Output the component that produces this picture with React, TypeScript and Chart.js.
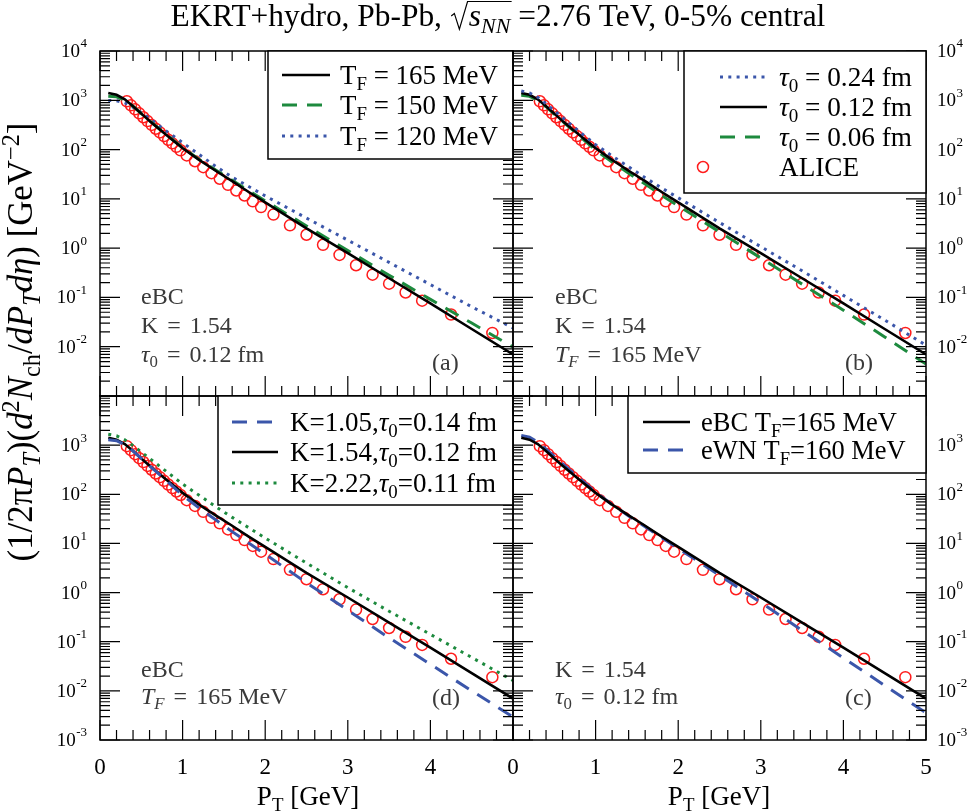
import React, { useEffect, useRef } from 'react';
import { Chart, registerables } from 'chart.js';

Chart.register(...registerables);

const W = 970;
const H = 811;
const SERIF = '"Liberation Serif", "Times New Roman", serif';

// ---------------- data ----------------
const modelPT = [0.1, 0.2, 0.3, 0.4, 0.5, 0.6, 0.8, 1.0, 1.2, 1.4, 1.6, 1.8, 2.0, 2.5, 3.0, 3.5, 4.0, 4.5, 5.0];
// eBC, K=1.54, tau0=0.12 fm, TF=165 MeV (black, all panels)
const eBC_TF165 = [1410, 1290, 1050, 760, 537, 380, 200, 107, 61.7, 37.2, 22.9, 13.8, 8.5, 2.51, 0.794, 0.245, 0.0759, 0.0229, 0.00698];
const eBC_TF150 = [1210, 1175, 1000, 760, 537, 385, 202, 110, 63.1, 38.5, 23.7, 14.6, 9.12, 2.82, 0.891, 0.282, 0.0912, 0.0302, 0.00982];
const eBC_TF120 = [991, 977, 891, 724, 562, 427, 240, 138, 79.4, 45.7, 27.5, 17.8, 11.5, 4.07, 1.45, 0.513, 0.182, 0.0646, 0.024];
const eBC_tau024 = [1550, 1410, 1150, 851, 617, 447, 234, 126, 74.1, 44.7, 26.9, 16.6, 10.5, 3.31, 1.07, 0.347, 0.11, 0.0347, 0.0107];
const eBC_tau006 = [1260, 1200, 1000, 741, 525, 372, 191, 97.7, 56.2, 33.1, 20.0, 11.7, 7.24, 2.14, 0.631, 0.186, 0.055, 0.0158, 0.00447];
const eBC_K105 = [1290, 1230, 1020, 759, 537, 380, 191, 95.5, 52.5, 30.2, 17.4, 10.2, 6.03, 1.58, 0.437, 0.12, 0.0347, 0.01, 0.00295];
const eBC_K222 = [1660, 1550, 1290, 977, 724, 537, 295, 162, 95.5, 56.2, 33.9, 20.9, 12.9, 3.98, 1.26, 0.417, 0.141, 0.0479, 0.0162];
const eWN_TF160 = [1580, 1450, 1150, 832, 589, 417, 214, 110, 61.7, 36.3, 21.9, 13.2, 7.94, 2.24, 0.631, 0.17, 0.0468, 0.0129, 0.00355];

const alicePT = [0.325, 0.375, 0.425, 0.475, 0.525, 0.575, 0.625, 0.675, 0.725, 0.775, 0.825, 0.875, 0.925, 0.975,
  1.05, 1.15, 1.25, 1.35, 1.45, 1.55, 1.65, 1.75, 1.85, 1.95,
  2.1, 2.3, 2.5, 2.7, 2.9, 3.1, 3.3, 3.5, 3.7, 3.9, 4.25, 4.75];
const aliceYield = [955, 790, 655, 544, 453, 378, 316, 265, 223, 188, 158, 134, 114, 96.7,
  76, 58, 44, 33.2, 25.6, 19.3, 14.8, 11.7, 8.9, 6.8,
  4.8, 2.9, 1.87, 1.17, 0.73, 0.45, 0.29, 0.19, 0.126, 0.086, 0.045, 0.019];

const xTicksLeft = [0, 1, 2, 3, 4];
const xTicksRight = [0, 1, 2, 3, 4, 5];
const yExpTop = [4, 3, 2, 1, 0, -1, -2];
const yExpBottom = [3, 2, 1, 0, -1, -2, -3];

// ---------------- styles ----------------
const BLACK = '#000000';
const GREEN = '#1d8a3e';
const BLUE = '#3b56aa';
const RED = '#ff1c1c';
const GRAY = '#3a3a3a';
const SOLID = { color: BLACK, dash: [], width: 2.6 };
const GREEN_DASH = { color: GREEN, dash: [15, 10], width: 3 };
const BLUE_DOT = { color: BLUE, dash: [3, 5.3], width: 3 };
const BLUE_DASH = { color: BLUE, dash: [15, 10], width: 3 };
const GREEN_DOT = { color: GREEN, dash: [3, 5.3], width: 3 };

// ---------------- rich text ----------------
type Seg = { t?: string; i?: boolean; sub?: boolean; sup?: boolean; g?: number };
const n = (t: string): Seg => ({ t });
const it = (t: string): Seg => ({ t, i: true });
const sb = (t: string, i = false): Seg => ({ t, sub: true, i });
const sp = (t: string): Seg => ({ t, sup: true });
const gap = (g: number): Seg => ({ g });

function segFont(s: Seg, size: number) {
  const sz = s.sub || s.sup ? size * 0.7 : size;
  return `${s.i ? 'italic ' : ''}${sz}px ${SERIF}`;
}
function measureRich(ctx: CanvasRenderingContext2D, segs: Seg[], size: number) {
  let w = 0;
  for (const s of segs) {
    if (s.g !== undefined) { w += (s.g * size) / 24; continue; }
    ctx.font = segFont(s, size);
    w += ctx.measureText(s.t || '').width;
  }
  return w;
}
function drawRich(ctx: CanvasRenderingContext2D, segs: Seg[], x: number, y: number, size: number, color: string, align = 'left') {
  const w = measureRich(ctx, segs, size);
  let cx = align === 'center' ? x - w / 2 : align === 'right' ? x - w : x;
  ctx.fillStyle = color;
  ctx.textAlign = 'left';
  ctx.textBaseline = 'alphabetic';
  for (const s of segs) {
    if (s.g !== undefined) { cx += (s.g * size) / 24; continue; }
    ctx.font = segFont(s, size);
    const dy = s.sub ? size * 0.22 : s.sup ? -size * 0.4 : 0;
    ctx.fillText(s.t || '', cx, y + dy);
    cx += ctx.measureText(s.t || '').width;
  }
  return w;
}

// ---------------- panels ----------------
const annK = [n('K'), gap(9), n('='), gap(9), n('1.54')];
const annTau = [it('τ'), sb('0'), gap(9), n('='), gap(9), n('0.12 fm')];
const annTF = [it('T'), sb('F', true), gap(9), n('='), gap(9), n('165 MeV')];
const annEBC = [n('eBC')];

const panels = [
  {
    area: { l: 100, t: 51, r: 513, b: 396 },
    series: [
      { data: eBC_TF165, style: SOLID },
      { data: eBC_TF150, style: GREEN_DASH },
      { data: eBC_TF120, style: BLUE_DOT },
    ],
    legend: {
      x: 268, y: 51, w: 245, h: 108, s1: 282, s2: 330, tx: 340, target: 158,
      rows: [
        { y: 75, style: SOLID, segs: [n('T'), sb('F'), n(' = 165 MeV')] },
        { y: 105, style: GREEN_DASH, segs: [n('T'), sb('F'), n(' = 150 MeV')] },
        { y: 136, style: BLUE_DOT, segs: [n('T'), sb('F'), n(' = 120 MeV')] },
      ],
    },
    ann: { x: 141, rows: [{ y: 297, segs: annEBC }, { y: 326, segs: annK }, { y: 355, segs: annTau }] },
    tag: { t: '(a)', x: 432, y: 362 },
    yLab: { side: 'left', exps: yExpTop },
    xLab: null,
    main: true,
  },
  {
    area: { l: 513, t: 51, r: 926, b: 396 },
    series: [
      { data: eBC_tau024, style: BLUE_DOT },
      { data: eBC_TF165, style: SOLID },
      { data: eBC_tau006, style: GREEN_DASH },
    ],
    legend: {
      x: 684, y: 51, w: 242, h: 142, s1: 720, s2: 767, tx: 779, target: 133, mx: 703,
      rows: [
        { y: 77, style: BLUE_DOT, segs: [it('τ'), sb('0'), n(' = 0.24 fm')] },
        { y: 107, style: SOLID, segs: [it('τ'), sb('0'), n(' = 0.12 fm')] },
        { y: 137, style: GREEN_DASH, segs: [it('τ'), sb('0'), n(' = 0.06 fm')] },
        { y: 167, marker: true, segs: [n('ALICE')] },
      ],
    },
    ann: { x: 555, rows: [{ y: 297, segs: annEBC }, { y: 326, segs: annK }, { y: 355, segs: annTF }] },
    tag: { t: '(b)', x: 845, y: 362 },
    yLab: { side: 'right', exps: yExpTop },
    xLab: null,
  },
  {
    area: { l: 100, t: 396, r: 513, b: 740 },
    series: [
      { data: eBC_K105, style: BLUE_DASH },
      { data: eBC_TF165, style: SOLID },
      { data: eBC_K222, style: GREEN_DOT },
    ],
    legend: {
      x: 218, y: 396, w: 295, h: 109, s1: 232, s2: 278, tx: 290, target: 207,
      rows: [
        { y: 422, style: BLUE_DASH, segs: [n('K=1.05,'), it('τ'), sb('0'), n('=0.14 fm')] },
        { y: 452, style: SOLID, segs: [n('K=1.54,'), it('τ'), sb('0'), n('=0.12 fm')] },
        { y: 483, style: GREEN_DOT, segs: [n('K=2.22,'), it('τ'), sb('0'), n('=0.11 fm')] },
      ],
    },
    ann: { x: 141, rows: [{ y: 670, segs: annEBC }, { y: 697, segs: annTF }] },
    tag: { t: '(d)', x: 432, y: 697 },
    yLab: { side: 'left', exps: yExpBottom },
    xLab: { ticks: xTicksLeft, titleX: 308 },
  },
  {
    area: { l: 513, t: 396, r: 926, b: 740 },
    series: [
      { data: eBC_TF165, style: SOLID },
      { data: eWN_TF160, style: BLUE_DASH },
    ],
    legend: {
      x: 628, y: 396, w: 298, h: 77, s1: 643, s2: 690, tx: 701, target: 196,
      rows: [
        { y: 422, style: SOLID, segs: [n('eBC T'), sb('F'), n('=165 MeV')] },
        { y: 450, style: BLUE_DASH, segs: [n('eWN T'), sb('F'), n('=160 MeV')] },
      ],
    },
    ann: { x: 555, rows: [{ y: 670, segs: annK }, { y: 697, segs: annTau }] },
    tag: { t: '(c)', x: 845, y: 697 },
    yLab: { side: 'right', exps: yExpBottom },
    xLab: { ticks: xTicksRight, titleX: 719 },
  },
];

// ---------------- decorations ----------------
function drawTitle(ctx: CanvasRenderingContext2D) {
  const A = [n('EKRT+hydro, Pb-Pb, ')];
  const S = [it('s'), sb('NN', true)];
  const B = [n(' =2.76 TeV, 0-5% central')];
  const base = 100;
  const wA = measureRich(ctx, A, base);
  const wS = measureRich(ctx, S, base);
  const wB = measureRich(ctx, B, base);
  const wR = 0.6 * base;
  const target = 655;
  const size = Math.min(32, (target / (wA + wS + wB + wR)) * base);
  const k = size / base;
  const total = (wA + wS + wB + wR) * k;
  let x = 498 - total / 2;
  const y = 26;
  drawRich(ctx, A, x, y, size, BLACK);
  x += wA * k;
  ctx.strokeStyle = BLACK;
  ctx.lineWidth = 1.2;
  ctx.setLineDash([]);
  ctx.beginPath();
  ctx.moveTo(x + 0.04 * size, y - 0.32 * size);
  ctx.lineTo(x + 0.14 * size, y - 0.4 * size);
  ctx.lineTo(x + 0.3 * size, y + 0.1 * size);
  ctx.lineTo(x + 0.56 * size, y - 0.78 * size);
  ctx.lineTo(x + wR * k + wS * k + 0.04 * size, y - 0.78 * size);
  ctx.stroke();
  x += wR * k;
  drawRich(ctx, S, x, y, size, BLACK);
  x += wS * k;
  drawRich(ctx, B, x, y, size, BLACK);
}

function drawYTitle(ctx: CanvasRenderingContext2D) {
  const segs = [n('(1/2π'), it('P'), sb('T', true), n(')('), it('d'), sp('2'), it('N'), sb('ch'), n('/'), it('dP'), sb('T', true), it('dη'), n(')'), n(' [GeV'), sp('−2'), n(']')];
  const w100 = measureRich(ctx, segs, 100);
  const size = Math.min(35, (439 / w100) * 100);
  ctx.save();
  ctx.translate(22, 342);
  ctx.rotate(-Math.PI / 2);
  drawRich(ctx, segs, 0, size * 0.3, size, BLACK, 'center');
  ctx.restore();
}

function strokeStyleLine(ctx: CanvasRenderingContext2D, style: any, x1: number, x2: number, y: number) {
  ctx.save();
  ctx.strokeStyle = style.color;
  ctx.lineWidth = style.width;
  ctx.setLineDash(style.dash);
  ctx.lineCap = 'butt';
  ctx.beginPath();
  ctx.moveTo(x1, y);
  ctx.lineTo(x2, y);
  ctx.stroke();
  ctx.restore();
}

function makePlugin(cfg: any) {
  return {
    id: 'panelDeco',
    afterDatasetsDraw(chart: any) {
      const ctx: CanvasRenderingContext2D = chart.ctx;
      const xs = chart.scales.x;
      const ys = chart.scales.y;
      const { left, right, top, bottom } = chart.chartArea;
      ctx.save();
      ctx.setLineDash([]);
      // ticks
      ctx.strokeStyle = BLACK;
      ctx.lineWidth = 1.2;
      ctx.beginPath();
      for (let i = 0; i <= 25; i++) {
        const px = xs.getPixelForValue(i / 5);
        const len = i % 5 === 0 ? 20 : 10;
        ctx.moveTo(px, bottom); ctx.lineTo(px, bottom - len);
        ctx.moveTo(px, top); ctx.lineTo(px, top + len);
      }
      for (let e = -3; e <= 4; e++) {
        for (let m = 1; m <= 9; m++) {
          if (e === 4 && m > 1) break;
          const py = ys.getPixelForValue(m * Math.pow(10, e));
          const len = m === 1 ? 20 : 10;
          ctx.moveTo(left, py); ctx.lineTo(left + len, py);
          ctx.moveTo(right, py); ctx.lineTo(right - len, py);
        }
      }
      ctx.stroke();
      ctx.lineWidth = 1.5;
      ctx.strokeRect(left, top, right - left, bottom - top);

      // y tick labels
      const yl = cfg.yLab;
      for (const e of yl.exps) {
        const py = ys.getPixelForValue(Math.pow(10, e));
        const es = String(e);
        ctx.font = `19px ${SERIF}`;
        const w10 = ctx.measureText('10').width;
        ctx.font = `13px ${SERIF}`;
        const we = ctx.measureText(es).width;
        const x0 = yl.side === 'left' ? 87 - we - w10 - 0.5 : 937;
        ctx.fillStyle = BLACK;
        ctx.textAlign = 'left';
        ctx.textBaseline = 'middle';
        ctx.font = `19px ${SERIF}`;
        ctx.fillText('10', x0, py + 1);
        ctx.font = `13px ${SERIF}`;
        ctx.fillText(es, x0 + w10 + 0.5, py - 7);
      }
      // x tick labels + title
      if (cfg.xLab) {
        ctx.font = `23px ${SERIF}`;
        ctx.textAlign = 'center';
        ctx.textBaseline = 'alphabetic';
        ctx.fillStyle = BLACK;
        for (const v of cfg.xLab.ticks) {
          ctx.fillText(String(v), xs.getPixelForValue(v), 774);
        }
        drawRich(ctx, [n('P'), sb('T'), n(' [GeV]')], cfg.xLab.titleX, 805, 27, BLACK, 'center');
      }
      // annotations
      for (const r of cfg.ann.rows) {
        drawRich(ctx, r.segs, cfg.ann.x, r.y + 7, 24, GRAY);
      }
      ctx.font = `24px ${SERIF}`;
      ctx.fillStyle = GRAY;
      ctx.textAlign = 'left';
      ctx.textBaseline = 'alphabetic';
      ctx.fillText(cfg.tag.t, cfg.tag.x, cfg.tag.y + 8);

      // legend
      const lg = cfg.legend;
      ctx.fillStyle = '#ffffff';
      ctx.fillRect(lg.x, lg.y, lg.w, lg.h);
      ctx.strokeStyle = BLACK;
      ctx.lineWidth = 1.5;
      ctx.setLineDash([]);
      ctx.strokeRect(lg.x, lg.y, lg.w, lg.h);
      const w100 = measureRich(ctx, lg.rows[0].segs, 100);
      const lsize = Math.min(30, (lg.target / w100) * 100);
      for (const r of lg.rows) {
        if (r.marker) {
          ctx.save();
          ctx.strokeStyle = RED;
          ctx.lineWidth = 1.5;
          ctx.beginPath();
          ctx.arc(lg.mx, r.y, 5.5, 0, Math.PI * 2);
          ctx.stroke();
          ctx.restore();
        } else {
          strokeStyleLine(ctx, r.style, lg.s1, lg.s2, r.y);
        }
        drawRich(ctx, r.segs, lg.tx, r.y + lsize * 0.33, lsize, BLACK);
      }

      if (cfg.main) {
        drawTitle(ctx);
        drawYTitle(ctx);
      }
      ctx.restore();
    },
  };
}

function Panel({ cfg }: { cfg: any }) {
  const ref = useRef<HTMLCanvasElement | null>(null);
  useEffect(() => {
    const a = cfg.area;
    const datasets: any[] = cfg.series.map((s: any, i: number) => ({
      data: modelPT.map((x, j) => ({ x, y: s.data[j] })),
      showLine: true,
      borderColor: s.style.color,
      borderWidth: s.style.width,
      borderDash: s.style.dash,
      borderCapStyle: 'butt',
      pointRadius: 0,
      pointHoverRadius: 0,
      fill: false,
      tension: 0,
      order: i,
    }));
    datasets.push({
      data: alicePT.map((x, j) => ({ x, y: aliceYield[j] })),
      showLine: false,
      pointStyle: 'circle',
      pointRadius: 5.5,
      pointHoverRadius: 5.5,
      borderColor: RED,
      backgroundColor: 'rgba(0,0,0,0)',
      pointBorderWidth: 1.5,
      borderWidth: 1.5,
      order: 10,
    });
    const chart = new Chart(ref.current as HTMLCanvasElement, {
      type: 'scatter',
      data: { datasets },
      options: {
        responsive: false,
        animation: false,
        events: [],
        layout: { padding: { left: a.l, top: a.t, right: W - a.r, bottom: H - a.b } },
        plugins: { legend: { display: false }, tooltip: { enabled: false }, title: { display: false } },
        scales: {
          x: { type: 'linear', min: 0, max: 5, display: false },
          y: { type: 'logarithmic', min: 1e-3, max: 1e4, display: false },
        },
      },
      plugins: [makePlugin(cfg)],
    } as any);
    return () => chart.destroy();
  }, []);
  return <canvas ref={ref} width={W} height={H} style={{ position: 'absolute', left: 0, top: 0, width: W, height: H }} />;
}

export default function App() {
  return (
    <div style={{ position: 'fixed', left: 0, top: 0, width: W, height: H, background: '#ffffff', overflow: 'hidden' }}>
      {panels.map((p, i) => (
        <Panel key={i} cfg={p} />
      ))}
    </div>
  );
}
